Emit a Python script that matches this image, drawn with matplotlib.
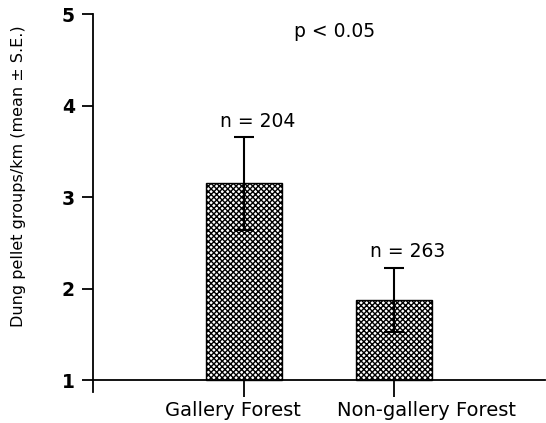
import matplotlib.pyplot as plt
from matplotlib.transforms import ScaledTranslation

# Data
categories = ["Gallery Forest", "Non-gallery Forest"]
means = [3.15, 1.88]
se = [0.51, 0.35]
n_labels = ["n = 204", "n = 263"]

plt.rcParams['font.family'] = ['DejaVu Sans']

fig = plt.figure(figsize=(5.46, 4.23), dpi=100)
ax = fig.add_axes([93 / 546, 31 / 423, 452 / 546, 378 / 423])

x = [1, 2]
ax.bar(x, [m - 1 for m in means], bottom=1, width=0.505, color='white',
       edgecolor='black', hatch='xxxxxx', linewidth=1.0)
ax.errorbar(x, means, yerr=se, fmt='none', ecolor='black', elinewidth=1.5,
            capsize=7.5, capthick=1.5)

# sample size labels above each error bar
for xi, m, s, lab in zip(x, means, se, n_labels):
    ax.text(xi + 0.09, m + s + 0.11, lab, ha='center', va='baseline', fontsize=13.5)

ax.text(1.606, 4.75, "p < 0.05", ha='center', va='baseline', fontsize=13.5)

ax.spines['top'].set_visible(False)
ax.spines['right'].set_visible(False)
ax.spines['bottom'].set_position(('data', 1))
ax.spines['left'].set_linewidth(1.3)
ax.spines['bottom'].set_linewidth(1.3)
ax.tick_params(axis='y', direction='out', length=8, width=1.3, pad=5, labelsize=13.5)
ax.tick_params(axis='x', direction='out', length=12, width=1.3, pad=3, labelsize=14)

ax.set_xlim(0, 3)
ax.set_ylim(0.87, 5)
ax.set_yticks([1, 2, 3, 4, 5])
ax.set_yticklabels(['1', '2', '3', '4', '5'], fontweight='bold')
ax.set_xticks(x)
ax.set_xticklabels(categories)
ax.set_ylabel("Dung pellet groups/km (mean ± S.E.)", fontsize=11.5)
ax.yaxis.set_label_coords(-0.148, 0.571)

# shift the x labels like in the original
offsets = [-11, 32]
for lab, dx in zip(ax.get_xticklabels(), offsets):
    lab.set_transform(lab.get_transform() + ScaledTranslation(dx / 100, 0, fig.dpi_scale_trans))

fig.savefig("out.png", dpi=100)
